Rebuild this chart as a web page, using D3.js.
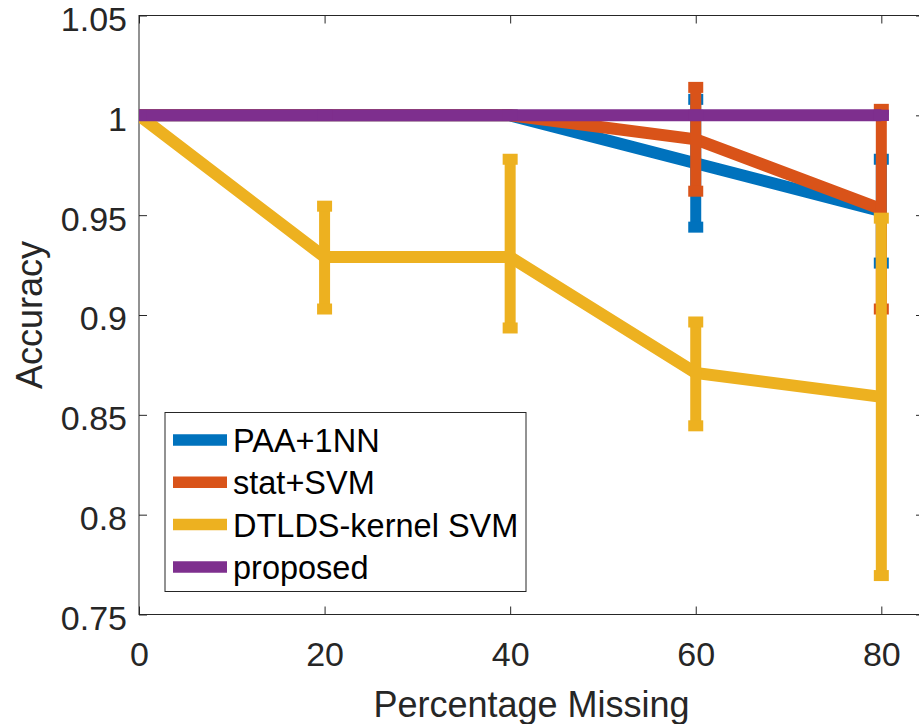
<!DOCTYPE html>
<html>
<head>
<meta charset="utf-8">
<script src="https://cdn.jsdelivr.net/npm/d3@7"></script>
<style>
  html, body { margin: 0; padding: 0; background: #fff; }
  svg { display: block; font-family: "Liberation Sans", Arial, sans-serif; }
</style>
</head>
<body>
<svg id="chart" width="919" height="724"></svg>
<script>
// data
const missing = [0, 20, 40, 60, 80];
const xTicks = [0, 20, 40, 60, 80];
const yTicks = [0.75, 0.8, 0.85, 0.9, 0.95, 1, 1.05];

const paaMean = [1, 1, 1, 0.976, 0.952];
const paaLow = [0, 0, 0, 0.032, 0.026];
const paaHigh = [0, 0, 0, 0.032, 0.026];

const statMean = [1, 1, 1, 0.988, 0.953];
const statLow = [0, 0, 0, 0.026, 0.050];
const statHigh = [0, 0, 0, 0.026, 0.050];

const dtldsMean = [1, 0.929, 0.929, 0.871, 0.859];
const dtldsLow = [0, 0.026, 0.0355, 0.0265, 0.0895];
const dtldsHigh = [0, 0.0255, 0.049, 0.0255, 0.0895];

const proposedMean = [1, 1, 1, 1, 1];
const proposedLow = [0, 0, 0, 0, 0];
const proposedHigh = [0, 0, 0, 0, 0];

const seriesNames = ['PAA+1NN', 'stat+SVM', 'DTLDS-kernel SVM', 'proposed'];
const seriesColors = ['#0072BD', '#D95319', '#EDB120', '#7E2F8E'];

const series = [
  { mean: paaMean, low: paaLow, high: paaHigh },
  { mean: statMean, low: statLow, high: statHigh },
  { mean: dtldsMean, low: dtldsLow, high: dtldsHigh },
  { mean: proposedMean, low: proposedLow, high: proposedHigh }
];

const axisColor = '#262626';
const lineWidth = 12;
const plotLeft = 139, plotRight = 924, plotTop = 15.5, plotBottom = 614.5;

const svg = d3.select('#chart');

const x = d3.scaleLinear().domain([0, 84.6]).range([plotLeft, plotRight]);
const y = d3.scaleLinear().domain([0.75, 1.05]).range([plotBottom, plotTop]);

svg.append('defs').append('clipPath').attr('id', 'plotClip')
  .append('rect')
  .attr('x', plotLeft).attr('y', plotTop)
  .attr('width', plotRight - plotLeft).attr('height', plotBottom - plotTop);

// axes box
svg.append('rect')
  .attr('x', plotLeft).attr('y', plotTop)
  .attr('width', plotRight - plotLeft).attr('height', plotBottom - plotTop)
  .attr('fill', 'none').attr('stroke', axisColor).attr('stroke-width', 1);

function styleAxis(g, showText) {
  g.select('.domain').remove();
  g.selectAll('line').attr('stroke', axisColor).attr('stroke-width', 1);
  g.selectAll('text')
    .attr('fill', axisColor)
    .attr('font-size', 34)
    .attr('font-family', '"Liberation Sans", Arial, sans-serif');
  if (!showText) g.selectAll('text').remove();
}

svg.append('g')
  .attr('transform', 'translate(0,' + plotBottom + ')')
  .call(d3.axisBottom(x).tickValues(xTicks).tickSize(-8).tickPadding(27).tickFormat(d3.format('d')))
  .call(g => styleAxis(g, true));

svg.append('g')
  .attr('transform', 'translate(0,' + plotTop + ')')
  .call(d3.axisTop(x).tickValues(xTicks).tickSize(-8))
  .call(g => styleAxis(g, false));

svg.append('g')
  .attr('transform', 'translate(' + plotLeft + ',0)')
  .call(d3.axisLeft(y).tickValues(yTicks).tickSize(-8).tickPadding(12).tickFormat(d => String(+d.toFixed(2))))
  .call(g => styleAxis(g, true))
  .call(g => g.selectAll('text').attr('dy', '0.44em'));

svg.append('g')
  .attr('transform', 'translate(' + plotRight + ',0)')
  .call(d3.axisRight(y).tickValues(yTicks).tickSize(-8))
  .call(g => styleAxis(g, false));

// axis labels
svg.append('text')
  .attr('x', (plotLeft + plotRight) / 2).attr('y', 717)
  .attr('text-anchor', 'middle')
  .attr('font-size', 36).attr('fill', axisColor)
  .text('Percentage Missing');

svg.append('text')
  .attr('transform', 'translate(42,' + ((plotTop + plotBottom) / 2) + ') rotate(-90)')
  .attr('text-anchor', 'middle')
  .attr('font-size', 36).attr('fill', axisColor)
  .text('Accuracy');

// series: line + error bars (caps drawn even for zero error, like errorbar())
const line = d3.line().x((d, i) => x(missing[i])).y(d => y(d));
const plotArea = svg.append('g').attr('clip-path', 'url(#plotClip)');

series.forEach((s, k) => {
  const g = plotArea.append('g').attr('class', 'series-' + k);
  const color = seriesColors[k];
  g.append('path')
    .datum(s.mean)
    .attr('d', line)
    .attr('fill', 'none')
    .attr('stroke', color)
    .attr('stroke-width', lineWidth)
    .attr('stroke-linejoin', 'miter')
    .attr('stroke-linecap', 'butt');

  const bars = s.mean.map((m, i) => ({ x: missing[i], lo: m - s.low[i], hi: m + s.high[i] }));

  g.selectAll('.bar').data(bars.filter(d => d.hi > d.lo)).join('line')
    .attr('class', 'bar')
    .attr('x1', d => x(d.x)).attr('x2', d => x(d.x))
    .attr('y1', d => y(d.lo)).attr('y2', d => y(d.hi))
    .attr('stroke', color).attr('stroke-width', 11);

  const caps = [];
  bars.forEach(d => { caps.push({ x: d.x, v: d.lo }); caps.push({ x: d.x, v: d.hi }); });
  g.selectAll('.cap').data(caps).join('rect')
    .attr('class', 'cap')
    .attr('x', d => x(d.x) - 7.5).attr('y', d => y(d.v) - (lineWidth - 1) / 2)
    .attr('width', 15).attr('height', lineWidth - 1)
    .attr('fill', color);
});

// legend
const legend = svg.append('g');
legend.append('rect')
  .attr('x', 165).attr('y', 412.5)
  .attr('width', 361).attr('height', 179)
  .attr('fill', '#fff').attr('stroke', axisColor).attr('stroke-width', 1);

seriesNames.forEach((name, i) => {
  const cy = 440 + i * 42.3;
  legend.append('line')
    .attr('x1', 173).attr('x2', 227)
    .attr('y1', cy).attr('y2', cy)
    .attr('stroke', seriesColors[i]).attr('stroke-width', 11.5);
  legend.append('text')
    .attr('x', 233).attr('y', cy + 12)
    .attr('font-size', 32.5).attr('fill', '#000')
    .text(name);
});
</script>
</body>
</html>
